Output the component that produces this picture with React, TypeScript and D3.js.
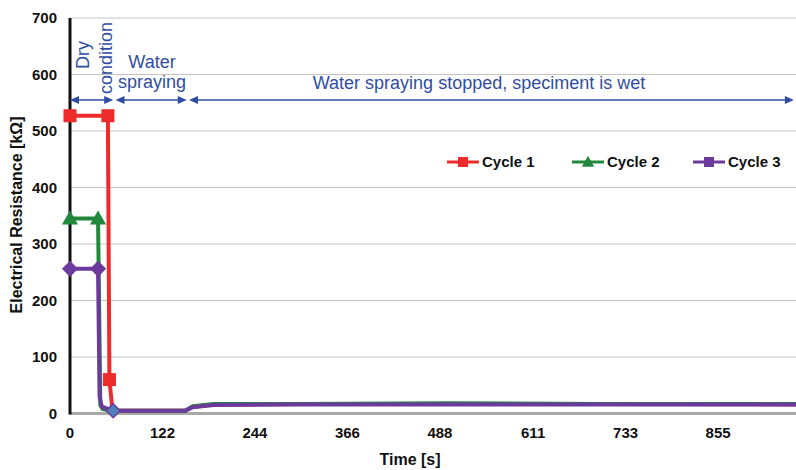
import * as d3 from "d3";

// time [s] and resistance [kOhm]
const cycle1Time = [0, 50, 52, 56, 100, 152, 162, 190, 300, 500, 700, 960];
const cycle1Value = [527, 527, 60, 5, 5, 5, 12, 16, 17, 17, 17, 16];
const cycle2Time = [0, 37, 40, 43, 57, 100, 152, 162, 190, 300, 500, 700, 960];
const cycle2Value = [345, 345, 15, 8, 5, 5, 5, 13, 17, 17, 18, 17, 17];
const cycle3Time = [0, 37, 39, 42, 57, 100, 152, 162, 190, 300, 500, 700, 960];
const cycle3Value = [256, 256, 30, 12, 5, 5, 5, 11, 15, 16, 16, 16, 16];

const xTicks = [0, 122, 244, 366, 488, 611, 733, 855];
const yTicks = [0, 100, 200, 300, 400, 500, 600, 700];

const phaseStart = [0, 60, 157];
const phaseEnd = [57, 154, 955];

const W = 796;
const H = 470;

const series = [
  { name: "Cycle 1", t: cycle1Time, v: cycle1Value, color: "#ee2b2b", shape: "square", marks: [0, 1, 2] },
  { name: "Cycle 2", t: cycle2Time, v: cycle2Value, color: "#22883c", shape: "triangle", marks: [0, 1] },
  { name: "Cycle 3", t: cycle3Time, v: cycle3Value, color: "#6c3a9c", shape: "diamond", marks: [0, 1] },
];

export default function App() {
  const x = d3.scaleLinear().domain([0, 960]).range([70, 70 + 960 * 0.758]);
  const y = d3.scaleLinear().domain([0, 700]).range([413.5, 18]);
  const line = d3
    .line<[number, number]>()
    .x((d) => x(d[0]))
    .y((d) => y(d[1]));
  const blue = "#2f4ea3";
  const arrowY = y(555);

  const marker = (shape: string, cx: number, cy: number, color: string, size: number, key: string) => {
    if (shape === "square")
      return <rect key={key} x={cx - size / 2} y={cy - size / 2} width={size} height={size} fill={color} />;
    if (shape === "triangle") {
      const s = size * 0.62;
      return <path key={key} d={`M${cx},${cy - s}L${cx + s},${cy + s * 0.75}L${cx - s},${cy + s * 0.75}Z`} fill={color} />;
    }
    const s = size * 0.62;
    return <path key={key} d={`M${cx},${cy - s}L${cx + s},${cy}L${cx},${cy + s}L${cx - s},${cy}Z`} fill={color} />;
  };

  return (
    <svg width={W} height={H} style={{ position: "absolute", left: 0, top: 0, fontFamily: "'Liberation Sans', Arial, sans-serif" }}>
      <rect width={W} height={H} fill="#fff" />
      {yTicks.slice(1).map((t) => (
        <line key={"g" + t} x1={70} x2={W} y1={y(t)} y2={y(t)} stroke="#c4c4c4" strokeWidth={1} />
      ))}
      <line x1={70} x2={W} y1={y(0)} y2={y(0)} stroke="#a9a9a9" strokeWidth={3} />
      <line x1={70} x2={70} y1={y(700)} y2={y(0) + 1} stroke="#111" strokeWidth={3} />
      {yTicks.map((t) => (
        <text key={"y" + t} x={57} y={y(t) + 5} textAnchor="end" fontSize={15} fontWeight="bold" fill="#111">
          {t}
        </text>
      ))}
      {xTicks.map((t) => (
        <text key={"x" + t} x={x(t)} y={438} textAnchor="middle" fontSize={15} fontWeight="bold" fill="#111">
          {t}
        </text>
      ))}
      <text x={410} y={465} textAnchor="middle" fontSize={16} fontWeight="bold" fill="#111">
        Time [s]
      </text>
      <text transform={`translate(22,215) rotate(-90)`} textAnchor="middle" fontSize={16} fontWeight="bold" fill="#111">
        Electrical Resistance [kΩ]
      </text>

      {/* phase arrows */}
      {phaseStart.map((s, i) => {
        const x1 = x(s);
        const x2 = x(phaseEnd[i]);
        return (
          <g key={"a" + i}>
            <line x1={x1 + 6} x2={x2 - 6} y1={arrowY} y2={arrowY} stroke={blue} strokeWidth={1.5} />
            <path d={`M${x1},${arrowY}L${x1 + 9},${arrowY - 4}L${x1 + 9},${arrowY + 4}Z`} fill={blue} />
            <path d={`M${x2},${arrowY}L${x2 - 9},${arrowY - 4}L${x2 - 9},${arrowY + 4}Z`} fill={blue} />
          </g>
        );
      })}
      <text transform={`translate(89,55) rotate(-90)`} textAnchor="middle" fontSize={18} fill={blue}>
        Dry
      </text>
      <text transform={`translate(112,58) rotate(-90)`} textAnchor="middle" fontSize={18} fill={blue}>
        condition
      </text>
      <text x={152} y={68} textAnchor="middle" fontSize={18} fill={blue}>
        Water
      </text>
      <text x={152} y={88} textAnchor="middle" fontSize={18} fill={blue}>
        spraying
      </text>
      <text x={479} y={89} textAnchor="middle" fontSize={18} fill={blue}>
        Water spraying stopped, speciment is wet
      </text>

      {/* series */}
      {series.map((s) => (
        <g key={s.name}>
          <path
            d={line(s.t.map((t, i) => [t, s.v[i]] as [number, number])) || ""}
            fill="none"
            stroke={s.color}
            strokeWidth={4}
            strokeLinejoin="round"
          />
          {s.marks.map((i) => marker(s.shape, x(s.t[i]), y(s.v[i]), s.color, 13, s.name + i))}
        </g>
      ))}
      {/* last cycle 3 marker at the drop */}
      <path
        d={`M${x(cycle3Time[4])},${y(cycle3Value[4]) - 7}L${x(cycle3Time[4]) + 7},${y(cycle3Value[4])}L${x(cycle3Time[4])},${y(cycle3Value[4]) + 7}L${x(cycle3Time[4]) - 7},${y(cycle3Value[4])}Z`}
        fill="#4f7fb8"
        stroke="#6c3a9c"
        strokeWidth={1.5}
      />

      {/* legend */}
      {series.map((s, i) => {
        const lx = [447, 572, 693][i];
        const ly = 162;
        return (
          <g key={"l" + i}>
            <line x1={lx} x2={lx + 32} y1={ly} y2={ly} stroke={s.color} strokeWidth={3} />
            {marker(s.shape === "diamond" ? "square" : s.shape, lx + 16, ly, s.color, 10, "lm" + i)}
            <text x={lx + 35} y={ly + 5} fontSize={15} fontWeight="bold" fill="#111">
              {s.name}
            </text>
          </g>
        );
      })}
    </svg>
  );
}
